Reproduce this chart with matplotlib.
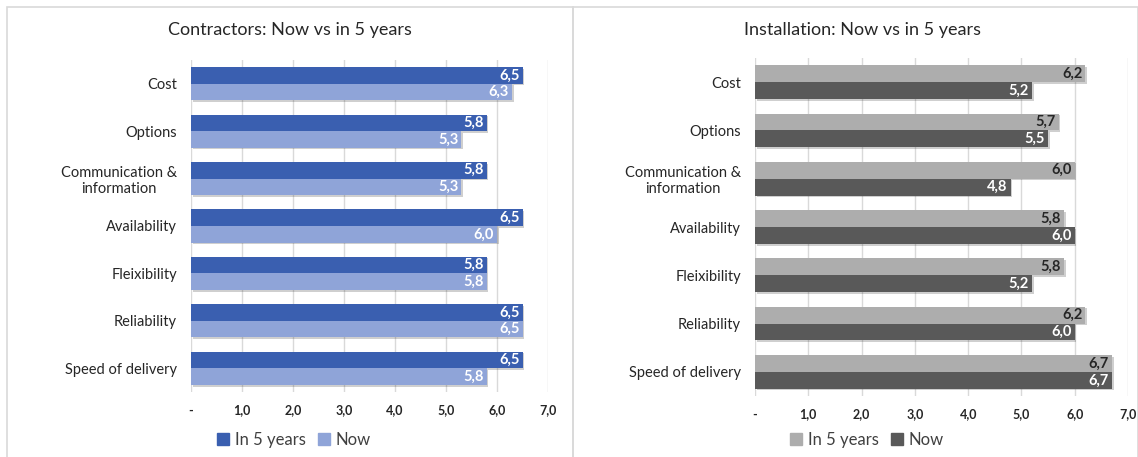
import matplotlib.pyplot as plt
import matplotlib.patheffects as pe
import numpy as np
from matplotlib.lines import Line2D

plt.rcParams['font.family'] = ['Lato', 'DejaVu Sans']

categories = ['Cost', 'Options', 'Communication &\ninformation', 'Availability',
              'Fleixibility', 'Reliability', 'Speed of delivery']

contr_future = [6.5, 5.8, 5.8, 6.5, 5.8, 6.5, 6.5]
contr_now = [6.3, 5.3, 5.3, 6.0, 5.8, 6.5, 5.8]

inst_future = [6.2, 5.7, 6.0, 5.8, 5.8, 6.2, 6.7]
inst_now = [5.2, 5.5, 4.8, 6.0, 5.2, 6.0, 6.7]

xticks = [0, 1, 2, 3, 4, 5, 6, 7]
xticklabels = ['-', '1,0', '2,0', '3,0', '4,0', '5,0', '6,0', '7,0']

W, H = 1138, 457
fig = plt.figure(figsize=(W / 100, H / 100), dpi=100)

# panel frames
for x0, x1 in [(7, 573), (573, 1138)]:
    fig.add_artist(plt.Rectangle((x0 / W, -0.01), (x1 - x0) / W, 1 - 7 / H + 0.01,
                                 transform=fig.transFigure, fill=False,
                                 edgecolor='#d9d9d9', linewidth=1.2))


def panel(rect, title, title_x, future, now, c_future, c_now, lab_future, lab_now, legend_x):
    ax = fig.add_axes(rect)
    y = np.arange(len(categories))
    h = 0.35
    shadow = [pe.SimplePatchShadow(offset=(1.2, -1.2), alpha=0.25, shadow_rgbFace='#404040'), pe.Normal()]
    b1 = ax.barh(y - h / 2, future, height=h, color=c_future, label='In 5 years', zorder=3)
    b2 = ax.barh(y + h / 2, now, height=h, color=c_now, label='Now', zorder=3)
    for bars, vals, col in [(b1, future, lab_future), (b2, now, lab_now)]:
        for bar, v in zip(bars, vals):
            bar.set_path_effects(shadow)
            ax.text(v - 0.06, bar.get_y() + bar.get_height() / 2, f'{v:.1f}'.replace('.', ','),
                    ha='right', va='center', color=col, fontsize=10.5, fontweight='bold', zorder=4)
    ax.set_xlim(0, 7)
    ax.set_ylim(len(categories) - 0.5, -0.5)
    ax.set_yticks(y)
    ax.set_yticklabels(categories, fontsize=10.5, color='#262626', multialignment='center')
    ax.set_xticks(xticks)
    ax.set_xticklabels(xticklabels, fontsize=9, fontweight='bold', color='#262626')
    ax.tick_params(axis='both', length=0)
    ax.tick_params(axis='x', pad=9)
    ax.tick_params(axis='y', pad=10)
    ax.grid(axis='x', color='#d9d9d9', linewidth=1, zorder=0)
    for s in ax.spines.values():
        s.set_visible(False)
    fig.text(title_x / W, 1 - 30 / H, title, ha='center', va='center', fontsize=13, color='#262626')
    handles = [Line2D([], [], marker='s', linestyle='none', markersize=8, color=c_future),
               Line2D([], [], marker='s', linestyle='none', markersize=8, color=c_now)]
    fig.legend(handles, ['In 5 years', 'Now'], loc='center', ncol=2, frameon=False,
               bbox_to_anchor=(legend_x / W, 1 - 440 / H), fontsize=12,
               handlelength=1.0, handletextpad=0.2, columnspacing=0.6, labelcolor='#404040')
    return ax


panel([191 / W, 1 - 392 / H, 357 / W, 332 / H], 'Contractors: Now vs in 5 years', 290,
      contr_future, contr_now, '#3a5fb0', '#8fa4d8', 'white', 'white', 293)
panel([755 / W, 1 - 396 / H, 373 / W, 338 / H], 'Installation: Now vs in 5 years', 862,
      inst_future, inst_now, '#adadad', '#595959', '#262626', 'white', 866)

fig.savefig('out.png', dpi=100)
